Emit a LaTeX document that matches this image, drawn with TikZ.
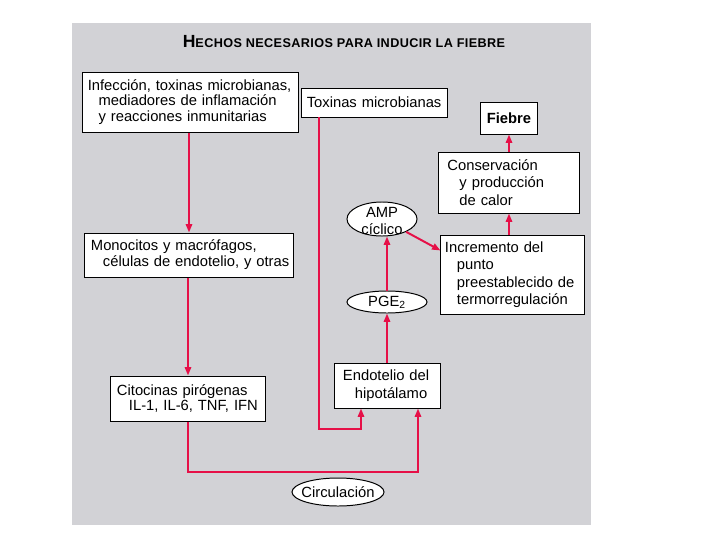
\documentclass[tikz,border=0pt]{standalone}
\usepackage{fontspec}
\setmainfont{Liberation Sans}
\usetikzlibrary{shapes.geometric,arrows.meta}
\definecolor{flowred}{RGB}{230,16,72}
\definecolor{panelgray}{RGB}{210,210,214}
\newcommand\boxfont{\fontsize{10.5}{11.3}\selectfont}

\begin{document}
\begin{tikzpicture}[x=0.025cm,y=-0.025cm,
	font=\boxfont,
	box/.style={draw,fill=white,line width=0.7pt,inner xsep=0.15cm,inner ysep=0pt,align=left},
	tallbox/.style={box,font=\fontsize{10.5}{12.4}\selectfont},
	oval/.style={ellipse,draw,fill=white,line width=0.7pt,inner sep=0pt},
	flow/.style={draw=flowred,line width=1.4pt,-{Triangle[length=6pt,width=4.5pt]}}]

	\useasboundingbox (0,0) rectangle (715,546);
	\fill[panelgray] (72,23) rectangle (591,525);

	\node[font={\bfseries\addfontfeatures{LetterSpace=3}}] (title) at (344,42)
		{{\fontsize{12.5}{14}\selectfont H}\fontsize{9}{11}\selectfont ECHOS NECESARIOS PARA INDUCIR LA FIEBRE};

	% left column
	\node[box,inner xsep=0.12cm,text width=5.135cm,minimum height=1.5cm] (infection) at (190.5,102)
		{\mbox{Infección, toxinas microbianas,}\\\hspace*{0.27cm}mediadores de inflamación\\\hspace*{0.27cm}y reacciones inmunitarias};
	\node[box,inner xsep=0.1cm,text width=5cm,minimum height=1.1cm] (monocytes) at (189,255)
		{\hspace*{0.05cm}Monocitos y macrófagos,\\\hspace*{0.35cm}\mbox{células de endotelio, y otras}};
	\node[box,text width=3.55cm,minimum height=1.125cm] (cytokines) at (188,398.5)
		{Citocinas pirógenas\\\hspace*{0.3cm}IL-1, IL-6, TNF, IFN};

	% middle column
	\node[box,inner xsep=0.12cm,text width=3.385cm,minimum height=0.725cm] (toxins) at (374.5,102.5)
		{Toxinas microbianas};
	\node[tallbox,text width=2.35cm,minimum height=1.125cm] (endothelium) at (387,385.5)
		{\hspace*{0.075cm}Endotelio del\\\hspace*{0.375cm}hipotálamo};
	\node[oval,minimum width=2cm,minimum height=0.55cm] (pge) at (387,302)
		{\makebox[0pt]{PGE\textsubscript{2}}};
	\node[oval,minimum width=1.75cm,minimum height=0.85cm,font=\fontsize{10.5}{12}\selectfont] (camp) at (382,219)
		{\makebox[0pt]{\raisebox{-5.2pt}[0pt][0pt]{\begin{tabular}{@{}c@{}}AMP\\cíclico\end{tabular}}}};
	\node[oval,minimum width=2.3cm,minimum height=0.7cm] (circulation) at (338,492)
		{\makebox[0pt]{Circulación}};

	% right column
	\node[box,font={\boxfont\bfseries},text width=1.125cm,minimum height=0.8cm,align=center] (fever) at (509,118)
		{Fiebre};
	\node[tallbox,text width=3.225cm,minimum height=1.525cm] (heat) at (509,182.5)
		{\hspace*{0.075cm}Conservación\\\hspace*{0.375cm}y producción\\\hspace*{0.375cm}de calor};
	\node[tallbox,inner xsep=0.1cm,text width=3.375cm,minimum height=1.975cm] (setpoint) at (512.5,274.5)
		{Incremento del\\\hspace*{0.3cm}punto\\\hspace*{0.3cm}preestablecido de\\\hspace*{0.3cm}termorregulación};

	% bends of the red lines
	\coordinate (toxbend) at (319,429);
	\coordinate (toxend) at (361,429);
	\coordinate (circbend) at (418,472);

	\draw[flow] (infection.south -| monocytes.north) -- (monocytes.north);
	\draw[flow] (cytokines.north |- monocytes.south) -- (cytokines.north);
	\draw[flow] (cytokines.south) |- (circbend) -- (circbend |- endothelium.south);
	\draw[flow] (toxins.south -| toxbend) -- (toxbend) -- (toxend) -- (toxend |- endothelium.south);
	\draw[flow] (endothelium) -- (pge);
	\draw[flow] (pge.north) -- (pge.north |- camp.south);
	\draw[flow] (camp.-28) -- ([yshift=-0.4cm]setpoint.north west);
	\draw[flow] (heat.south |- setpoint.north) -- (heat.south);
	\draw[flow] (heat.north) -- (heat.north |- fever.south);

\end{tikzpicture}
\end{document}
